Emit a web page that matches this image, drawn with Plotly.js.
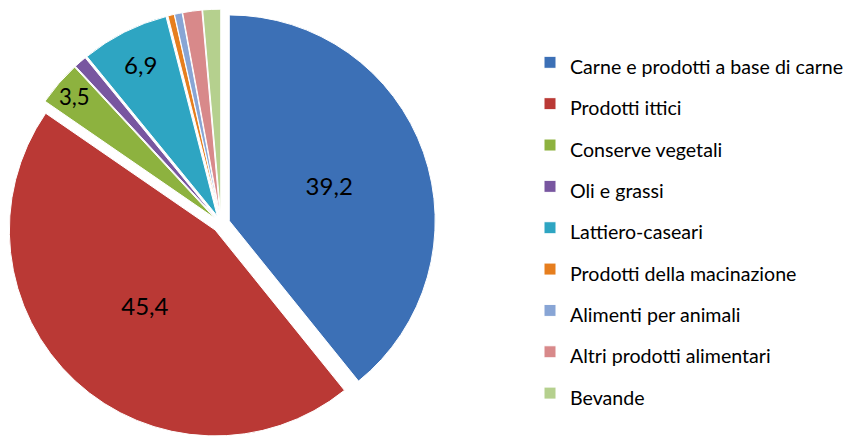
<!DOCTYPE html>
<html>
<head>
<meta charset="utf-8">
<script src="https://cdn.plot.ly/plotly-3.0.1.min.js"></script>
<style>html,body{margin:0;padding:0;background:#fff;}#chart{width:849px;height:443px;}</style>
</head>
<body>
<div id="chart"></div>
<script>
var categories = [
  "Carne e prodotti a base di carne",
  "Prodotti ittici",
  "Conserve vegetali",
  "Oli e grassi",
  "Lattiero-caseari",
  "Prodotti della macinazione",
  "Alimenti per animali",
  "Altri prodotti alimentari",
  "Bevande"
];
var values = [39.2, 45.4, 3.5, 1.0, 6.9, 0.5, 0.6, 1.5, 1.4];
var colors = ["#3C70B6", "#BA3935", "#8DB23F", "#7856A0", "#2EA5C2", "#E67E1E", "#88A5D5", "#D8898A", "#B5D08E"];
var labelMin = 3; // only larger slices carry a value label

var legendLabels = categories.map(function (c) { return '<span style="font-size:19.6px">' + c + '</span>'; });
var templates = values.map(function (v) { return v >= labelMin ? '%{value:.1f}' : ''; });

var trace = {
  type: 'pie',
  labels: legendLabels,
  values: values,
  sort: false,
  direction: 'clockwise',
  rotation: 0,
  pull: 0.042,
  marker: {colors: colors, line: {color: '#ffffff', width: 1}},
  texttemplate: templates,
  textposition: 'inside',
  insidetextorientation: 'horizontal',
  textfont: {family: 'Lato, sans-serif', size: 24, color: '#000000'},
  hoverinfo: 'label+value',
  domain: {x: [0.008, 0.53], y: [0, 0.99]}
};

var layout = {
  width: 849,
  height: 443,
  margin: {l: 0, r: 0, t: 0, b: 0},
  separators: ',.',
  paper_bgcolor: '#ffffff',
  showlegend: true,
  legend: {
    x: 0.645, xanchor: 'left',
    y: 0.485, yanchor: 'middle',
    font: {family: 'Lato, sans-serif', size: 29.5, color: '#000000'},
    traceorder: 'normal'
  },
  font: {family: 'Lato, sans-serif'}
};

Plotly.newPlot('chart', [trace], layout, {displayModeBar: false, staticPlot: true});
</script>
</body>
</html>
